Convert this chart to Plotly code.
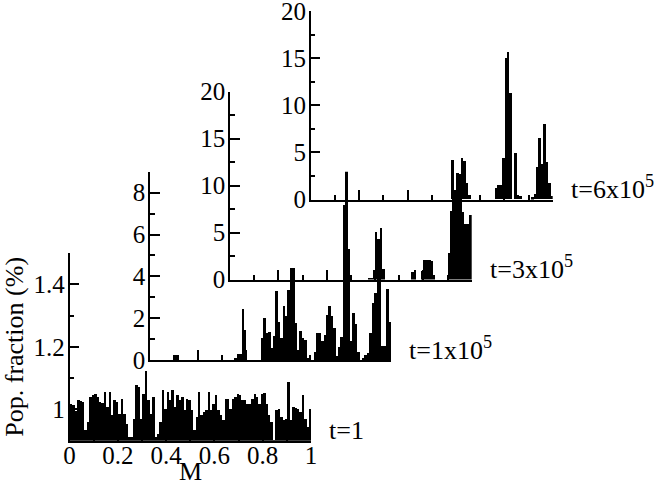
import plotly.graph_objects as go

# ---------------- data (percent of population in each of 100 bins of M) ----------------
m_centers = [(i + 0.5) / 100 for i in range(100)]

pop_t1 = [
    1.018, 1.013, 0.995, 1.029, 1.026, 1.023, 0.933, 0.960, 1.039, 1.045,
    1.048, 1.041, 1.023, 1.020, 1.055, 1.007, 1.055, 0.981, 1.029, 1.023,
    0.986, 1.034, 0.986, 0.954, 0.912, 0.912, 0.970, 1.077, 1.071, 0.970,
    1.050, 1.124, 1.029, 0.986, 1.039, 0.912, 0.922, 0.960, 1.061, 1.002,
    1.055, 1.029, 1.061, 1.007, 1.045, 1.029, 1.039, 0.997, 1.034, 1.029,
    0.997, 0.933, 0.976, 1.055, 0.981, 0.991, 0.997, 1.055, 0.999, 1.018,
    1.047, 0.997, 0.981, 0.965, 1.034, 1.034, 1.002, 1.034, 1.039, 1.048,
    1.045, 1.031, 1.029, 1.016, 1.018, 1.034, 1.050, 1.041, 1.018, 1.050,
    1.052, 1.018, 0.981, 0.960, 0.901, 0.997, 1.002, 0.976, 0.967, 0.970,
    1.087, 0.965, 1.007, 1.004, 1.002, 0.991, 1.045, 0.970, 0.944, 1.002,
]

pop_t1e5 = [
    0, 0, 0, 0, 0, 0, 0, 0, 0, 0,
    0.25, 0.25, 0, 0, 0, 0, 0, 0, 0, 0,
    0, 0, 0, 0, 0, 0, 0, 0, 0, 0,
    0, 0, 0, 0, 0, 0.1, 0.32, 0.32, 2.43, 1.44,
    0, 0, 0, 0, 0, 0, 1.08, 2.04, 1.3, 1.37,
    0.6, 1.18, 3.33, 1.85, 1.05, 2.6, 2.1, 3.36, 4.4, 4.4,
    1.8, 0.5, 1.4, 1.05, 0.97, 0.1, 0.25, 0, 0.37, 1.3,
    1.3, 0.92, 1.2, 2.17, 2.6, 2.1, 1.53, 0.18, 0.65, 1.13,
    7.4, 10.0, 5.3, 0.9, 2.25, 1.74, 0.4, 0, 0.1, 0.25,
    0.33, 1.3, 2.73, 3.2, 4.5, 4.2, 0.7, 0.7, 3.4, 1.85,
]

pop_t3e5 = [0] * 57 + [
    0.2, 0.2, 1.06, 5.1, 4.4, 5.5, 1.2, 0, 0, 0,
    0, 0, 0, 0, 0, 0, 0, 0, 0.85, 1.05,
    0, 0, 1.0, 2.1, 2.15, 2.15, 2.0, 0.55, 0, 0,
    0, 0, 0, 2.9, 7.3, 9.0, 9.2, 9.0, 8.9, 7.2,
    6.0, 6.0, 6.9,
]

pop_t6e5 = [0] * 58 + [
    4.2, 1.0, 2.8, 2.7, 4.4, 4.1, 1.7, 0.5, 0, 0,
    0, 0, 0, 0, 0, 0, 0, 0, 1.2, 1.5,
    1.5, 4.4, 15.0, 15.6, 11.3, 0, 4.9, 0.5, 0.3, 0,
    0, 0, 0, 0.2, 0.6, 3.4, 6.5, 3.8, 8.0, 4.0,
    1.7, 0.3,
]

time_labels = ["t=1", "t=1x10<sup>5</sup>", "t=3x10<sup>5</sup>", "t=6x10<sup>5</sup>"]
x_title = "M"
y_title = "Pop. fraction (%)"

x_tickvals = [0, 0.2, 0.4, 0.6, 0.8, 1]
x_ticktext = ["0", "0.2", "0.4", "0.6", "0.8", "1"]
x_minorvals = [0.1, 0.3, 0.5, 0.7, 0.9]

y1_tickvals = [1.0, 1.2, 1.4]
y1_ticktext = ["1", "1.2", "1.4"]
y1_minorvals = [0.9, 1.1, 1.3, 1.5]

y2_tickvals = [0, 2, 4, 6, 8]
y2_ticktext = ["0", "2", "4", "6", "8"]
y2_minorvals = [1, 3, 5, 7, 9]

y34_tickvals = [0, 5, 10, 15, 20]
y34_ticktext = ["0", "5", "10", "15", "20"]
y34_minorvals = [2.5, 7.5, 12.5, 17.5]

series = [pop_t1, pop_t1e5, pop_t3e5, pop_t6e5]
y_ranges = [[0.9, 1.5], [0, 9], [0, 20], [0, 20]]
y_ticks = [
    (y1_tickvals, y1_ticktext, y1_minorvals),
    (y2_tickvals, y2_ticktext, y2_minorvals),
    (y34_tickvals, y34_ticktext, y34_minorvals),
    (y34_tickvals, y34_ticktext, y34_minorvals),
]

# ---------------- layout geometry (pixels) ----------------
W, H = 664, 490
# (left, right, bottom, top) in pixels for each panel
panels_px = [
    (69.5, 311.0, 440.7, 253.0),
    (150.0, 391.0, 360.0, 171.8),
    (230.0, 471.7, 279.5, 91.5),
    (310.7, 552.7, 199.5, 11.2),
]

FONT = "Liberation Serif, Times New Roman, serif"
TICKFS = 25

fig = go.Figure()
layout = dict(
    width=W, height=H,
    margin=dict(l=0, r=0, t=0, b=0, autoexpand=False),
    paper_bgcolor="white",
    plot_bgcolor="rgba(0,0,0,0)",
    showlegend=False,
    bargap=0,
    font=dict(family=FONT, size=TICKFS, color="black"),
)

annotations = []
for k, (vals, yr, (tv, tt, mv), (l, r, b, t)) in enumerate(
        zip(series, y_ranges, y_ticks, panels_px)):
    sfx = "" if k == 0 else str(k + 1)
    fig.add_trace(go.Bar(
        x=m_centers, y=vals, width=0.01,
        marker=dict(color="black", line=dict(width=0)),
        xaxis="x" + sfx, yaxis="y" + sfx,
        hoverinfo="x+y",
    ))
    xa = dict(
        domain=[l / W, r / W], range=[0, 1], anchor="y" + sfx,
        automargin=False,
        showline=True, linecolor="black", linewidth=1.5,
        showgrid=False, zeroline=False, mirror=False,
        ticks="inside", ticklen=10, tickwidth=1.5, tickcolor="black",
        tickmode="array", tickvals=x_tickvals, ticktext=x_ticktext,
        showticklabels=(k == 0), ticklabeloverflow="allow",
        ticklabelstandoff=-8,
        tickfont=dict(family=FONT, size=TICKFS, color="black"),
        minor=dict(ticks="inside", ticklen=5, tickwidth=1.5, tickcolor="black",
                   tickmode="array", tickvals=x_minorvals, showgrid=False),
        fixedrange=True,
    )
    ya = dict(
        domain=[1 - b / H, 1 - t / H], range=yr, anchor="x" + sfx,
        automargin=False,
        showline=True, linecolor="black", linewidth=1.5,
        showgrid=False, zeroline=False, mirror=False,
        ticks="inside", ticklen=10, tickwidth=1.5, tickcolor="black",
        tickmode="array", tickvals=tv, ticktext=tt,
        tickfont=dict(family=FONT, size=TICKFS, color="black"),
        ticklabelstandoff=-2, ticklabeloverflow="allow",
        minor=dict(ticks="inside", ticklen=5, tickwidth=1.5, tickcolor="black",
                   tickmode="array", tickvals=mv, showgrid=False),
        fixedrange=True,
    )
    if k == 0:
        ya["title"] = dict(text=y_title,
                           font=dict(family=FONT, size=26, color="black"),
                           standoff=2)
    layout["xaxis" + sfx] = xa
    layout["yaxis" + sfx] = ya

    annotations.append(dict(
        text=time_labels[k], xref="paper", yref="paper",
        x=(r + 16) / W, y=1 - (b + 6.5) / H,
        xanchor="left", yanchor="bottom", showarrow=False,
        font=dict(family=FONT, size=26, color="black"),
    ))

# x-axis title of the front panel
l0, r0, b0, _ = panels_px[0]
annotations.append(dict(
    text=x_title, xref="paper", yref="paper",
    x=(l0 + r0) / 2 / W, y=1 - 471 / H,
    xanchor="center", yanchor="middle", showarrow=False,
    font=dict(family=FONT, size=26, color="black"),
))

layout["annotations"] = annotations
fig.update_layout(**layout)
fig.write_html(
    "out.html",
    config={"displayModeBar": False},
    post_script="document.body.style.margin='0';document.body.style.padding='0';"
                "document.body.style.overflow='hidden';",
)
